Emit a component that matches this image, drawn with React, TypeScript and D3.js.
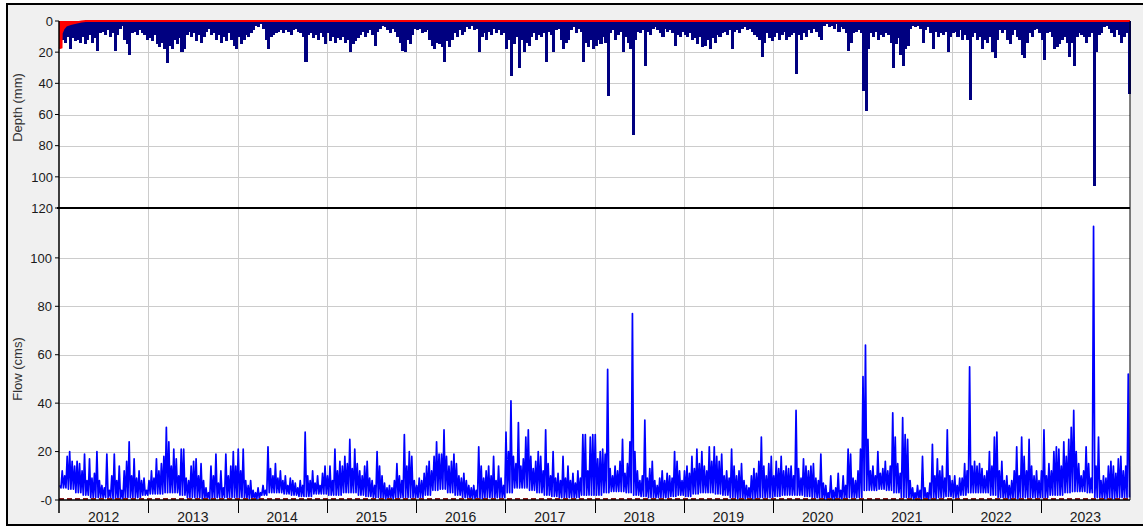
import * as d3 from "d3";
import { useEffect, useRef } from "react";

const WIDTH = 1143;
const HEIGHT = 527;
const STEPS = 36; // ~10-day steps per year

const years = [2012, 2013, 2014, 2015, 2016, 2017, 2018, 2019, 2020, 2021, 2022, 2023];

// flow peaks (cms), one per ~10 days
const flowPeaks: number[][] = [
  [6, 12, 10, 18, 20, 16, 14, 16, 15, 12, 19, 8, 17, 9, 11, 20, 8, 6, 5, 19, 4, 10, 19, 8, 14, 4, 12, 16, 24, 10, 17, 9, 12, 8, 9, 4],
  [8, 12, 9, 17, 12, 15, 18, 30, 24, 14, 21, 17, 10, 21, 21, 9, 8, 14, 16, 17, 10, 15, 8, 5, 3, 14, 10, 19, 7, 12, 5, 19, 10, 14, 20, 14],
  [21, 12, 21, 8, 6, 8, 4, 3, 5, 3, 6, 4, 22, 13, 10, 15, 9, 12, 8, 10, 6, 9, 8, 7, 5, 8, 6, 28, 10, 8, 12, 7, 10, 6, 11, 14],
  [10, 14, 8, 21, 12, 16, 14, 18, 15, 25, 13, 21, 15, 12, 10, 14, 16, 9, 8, 6, 20, 14, 10, 7, 5, 6, 5, 8, 15, 10, 8, 27, 14, 20, 18, 8],
  [6, 9, 8, 11, 14, 16, 12, 18, 24, 19, 19, 29, 18, 14, 16, 19, 15, 10, 9, 11, 8, 6, 5, 6, 4, 22, 14, 9, 12, 14, 10, 18, 8, 14, 9, 6],
  [28, 20, 41, 18, 15, 32, 14, 17, 26, 29, 18, 13, 16, 20, 18, 12, 29, 15, 10, 20, 9, 11, 8, 18, 9, 14, 8, 11, 7, 12, 9, 27, 27, 12, 26, 27],
  [27, 17, 20, 21, 19, 54, 13, 10, 14, 12, 16, 25, 11, 15, 24, 77, 20, 12, 8, 10, 33, 9, 13, 16, 8, 6, 9, 12, 8, 11, 10, 9, 20, 16, 12, 8],
  [12, 14, 11, 18, 13, 21, 15, 20, 14, 12, 22, 16, 22, 18, 16, 19, 10, 12, 9, 21, 14, 10, 12, 15, 8, 6, 5, 10, 13, 11, 16, 26, 14, 10, 15, 18],
  [10, 16, 13, 18, 12, 14, 13, 14, 10, 37, 13, 9, 17, 14, 12, 14, 15, 9, 8, 19, 7, 6, 3, 10, 4, 5, 11, 4, 10, 6, 21, 19, 9, 8, 12, 21],
  [51, 64, 25, 12, 14, 10, 20, 11, 13, 16, 12, 14, 36, 26, 15, 11, 34, 27, 25, 8, 5, 3, 6, 4, 18, 5, 3, 7, 23, 10, 17, 12, 14, 9, 29, 10],
  [8, 10, 6, 9, 9, 15, 12, 55, 14, 16, 14, 15, 13, 10, 12, 20, 14, 26, 28, 12, 16, 8, 10, 6, 8, 12, 22, 10, 26, 18, 12, 25, 14, 10, 12, 8],
  [12, 29, 10, 15, 12, 20, 22, 21, 14, 24, 18, 25, 30, 37, 20, 15, 10, 12, 22, 15, 9, 113, 14, 26, 8, 10, 9, 14, 16, 14, 11, 17, 18, 12, 14, 52],
];

// monthly low flow (cms)
const flowLows: number[][] = [
  [5, 4.5, 3, 2, 1, 1, 1, 0.5, 0.5, 1, 1, 2],
  [2.5, 2.5, 3, 3, 2, 1, 1, 0.5, 0.5, 1, 1, 1],
  [1, 0.5, 0.5, 2, 3, 3, 2.5, 2, 1.5, 1.5, 2.5, 2.5],
  [2, 2, 3, 3, 2, 1.5, 1, 0.5, 0.5, 1, 1, 1],
  [1, 2, 4, 4.5, 3, 2, 1, 0.5, 0.5, 1, 1, 1],
  [3, 5, 5, 4, 3, 2, 1.5, 1, 1, 1, 2, 2],
  [2, 3, 3.5, 3.5, 3, 2, 1.5, 1, 1, 1, 1.5, 2],
  [1.5, 2.5, 3, 3, 2.5, 2, 1, 0.5, 0.5, 0.5, 1, 1],
  [1.5, 2, 2, 2, 1.5, 1, 0.3, 0.2, 0.2, 0.5, 1, 1],
  [4, 4, 4.5, 4, 3, 1, 0.3, 0.2, 0.3, 0.5, 1, 1.5],
  [1, 2, 3, 3, 3, 2, 1, 0.5, 0.5, 1, 1, 1],
  [1, 2, 2, 3, 3.5, 3.5, 3, 1, 0.5, 0.5, 1, 1],
];

// rainfall depth (mm), one per ~10 days
const depthValues: number[][] = [
  [16, 12, 14, 10, 18, 11, 13, 12, 14, 10, 15, 12, 9, 14, 11, 19, 8, 7, 9, 6, 10, 8, 19, 9, 5, 3, 12, 15, 22, 8, 7, 9, 6, 8, 9, 12],
  [11, 13, 9, 15, 17, 14, 18, 27, 16, 18, 12, 15, 11, 20, 18, 9, 7, 10, 8, 13, 9, 14, 10, 7, 5, 9, 8, 12, 9, 14, 10, 13, 8, 12, 16, 18],
  [10, 15, 12, 9, 10, 8, 6, 3, 4, 2, 5, 12, 18, 10, 9, 8, 7, 6, 8, 6, 7, 9, 6, 5, 7, 8, 10, 26, 9, 8, 11, 9, 12, 8, 10, 15],
  [8, 13, 10, 14, 11, 12, 10, 14, 12, 20, 15, 13, 11, 9, 7, 10, 8, 6, 9, 16, 7, 5, 3, 4, 6, 8, 5, 7, 10, 14, 19, 20, 12, 15, 9, 5],
  [6, 5, 8, 7, 6, 12, 16, 18, 14, 15, 17, 26, 13, 17, 12, 8, 10, 6, 9, 7, 4, 5, 3, 6, 5, 20, 10, 8, 12, 7, 9, 5, 8, 6, 9, 8],
  [18, 12, 35, 15, 10, 30, 12, 20, 14, 16, 10, 8, 12, 9, 10, 8, 26, 7, 9, 20, 6, 5, 12, 18, 14, 12, 6, 4, 8, 5, 7, 26, 14, 17, 12, 18],
  [16, 12, 15, 10, 14, 48, 8, 6, 12, 9, 7, 20, 10, 14, 18, 73, 12, 7, 8, 6, 29, 7, 9, 5, 4, 6, 8, 10, 5, 7, 6, 8, 16, 9, 10, 7],
  [9, 10, 8, 12, 11, 15, 10, 17, 16, 12, 18, 11, 14, 9, 10, 8, 7, 9, 6, 18, 7, 6, 8, 5, 4, 6, 5, 7, 9, 10, 12, 23, 14, 8, 11, 13],
  [10, 8, 12, 9, 7, 12, 10, 9, 8, 34, 9, 12, 8, 10, 6, 8, 5, 7, 10, 12, 3, 2, 4, 3, 5, 2, 7, 4, 5, 8, 19, 14, 8, 7, 6, 8],
  [45, 58, 18, 8, 10, 7, 12, 9, 10, 8, 9, 14, 30, 15, 11, 22, 29, 18, 16, 5, 3, 4, 3, 5, 14, 6, 4, 8, 18, 7, 10, 8, 9, 7, 20, 10],
  [8, 7, 10, 6, 12, 9, 12, 51, 10, 8, 12, 10, 18, 12, 14, 10, 20, 24, 12, 6, 8, 6, 12, 15, 9, 6, 10, 12, 22, 24, 14, 8, 10, 6, 5, 8],
  [12, 25, 8, 7, 10, 18, 17, 15, 12, 10, 14, 23, 14, 29, 10, 8, 9, 10, 14, 10, 8, 106, 20, 9, 8, 4, 3, 5, 8, 10, 6, 9, 14, 10, 8, 47],
];

// red series (mm) as [decimal year, depth]
const lossDepth: [number, number][] = [
  [2012, 17.5], [2012.028, 17], [2012.03, 8], [2012.05, 5], [2012.08, 3],
  [2012.13, 2], [2012.2, 1], [2012.25, 0.3], [2012.3, 0], [2024, 0],
];

const depthTicks = [0, 20, 40, 60, 80, 100, 120];
const flowTicks = [0, 20, 40, 60, 80, 100];
const flowTickLabels = ["-0", "20", "40", "60", "80", "100"];

const FONT = "'Liberation Sans', Arial, sans-serif";

const App = () => {
  const svgRef = useRef<SVGSVGElement | null>(null);

  useEffect(() => {
    if (!svgRef.current) return;
    const svg = d3.select(svgRef.current);
    svg.selectAll("*").remove();

    const left = 59;
    const right = 1130;
    const top = 21;
    const mid = 208;
    const bottom = 500;

    const x = d3.scaleLinear([years[0], years[years.length - 1] + 1], [left, right]);
    const yDepth = d3.scaleLinear([0, 120], [top, mid]);
    const yFlow = d3.scaleLinear([0, 120.6], [bottom, mid]);

    // frame
    svg.append("rect").attr("width", WIDTH).attr("height", HEIGHT).attr("fill", "#fff");
    svg
      .append("rect")
      .attr("x", 7)
      .attr("y", 4)
      .attr("width", WIDTH + 20)
      .attr("height", 521)
      .attr("fill", "#f0f0f0")
      .attr("stroke", "#000")
      .attr("stroke-width", 2);
    svg
      .append("rect")
      .attr("x", left)
      .attr("y", top)
      .attr("width", right - left)
      .attr("height", bottom - top)
      .attr("fill", "#fff");

    const grid = svg.append("g").attr("stroke", "#cccccc").attr("stroke-width", 1);
    grid
      .selectAll("line.v")
      .data(years.slice(1))
      .enter()
      .append("line")
      .attr("x1", (d) => Math.round(x(d)) + 0.5)
      .attr("x2", (d) => Math.round(x(d)) + 0.5)
      .attr("y1", top)
      .attr("y2", bottom);
    grid
      .selectAll("line.hd")
      .data(depthTicks.slice(1, -1))
      .enter()
      .append("line")
      .attr("x1", left)
      .attr("x2", right)
      .attr("y1", (d) => Math.round(yDepth(d)) + 0.5)
      .attr("y2", (d) => Math.round(yDepth(d)) + 0.5);
    grid
      .selectAll("line.hf")
      .data(flowTicks.slice(1))
      .enter()
      .append("line")
      .attr("x1", left)
      .attr("x2", right)
      .attr("y1", (d) => Math.round(yFlow(d)) + 0.5)
      .attr("y2", (d) => Math.round(yFlow(d)) + 0.5);

    // depth bars
    const bars = years.flatMap((yr, k) =>
      depthValues[k].map((v, i) => ({ t: yr + i / STEPS, v }))
    );
    svg
      .append("g")
      .attr("fill", "#000080")
      .attr("shape-rendering", "crispEdges")
      .selectAll("rect")
      .data(bars)
      .enter()
      .append("rect")
      .attr("x", (d) => x(d.t))
      .attr("width", (d) => x(d.t + 1 / STEPS) - x(d.t) + 0.6)
      .attr("y", yDepth(0))
      .attr("height", (d) => yDepth(d.v) - yDepth(0));

    // red series
    svg
      .append("path")
      .datum(lossDepth)
      .attr("fill", "#ff0000")
      .attr(
        "d",
        d3
          .area<[number, number]>()
          .x((d) => x(d[0]))
          .y0(yDepth(0))
          .y1((d) => yDepth(d[1]))
      );
    svg
      .append("path")
      .datum(lossDepth)
      .attr("fill", "none")
      .attr("stroke", "#ff0000")
      .attr("stroke-width", 2)
      .attr(
        "d",
        d3
          .line<[number, number]>()
          .x((d) => x(d[0]))
          .y((d) => yDepth(d[1]))
      );

    // flow
    const flowPts = years.flatMap((yr, k) =>
      flowPeaks[k].flatMap((v, i) => [
        { t: yr + (i + 0.3) / STEPS, v },
        { t: yr + (i + 0.8) / STEPS, v: flowLows[k][Math.floor(i / 3)] },
      ])
    );
    svg
      .append("path")
      .datum(flowPts)
      .attr("fill", "none")
      .attr("stroke", "#0000ff")
      .attr("stroke-width", 1.7)
      .attr("stroke-linejoin", "round")
      .attr(
        "d",
        d3
          .line<{ t: number; v: number }>()
          .x((d) => x(d.t))
          .y((d) => yFlow(d.v))
      );

    svg
      .append("line")
      .attr("x1", left)
      .attr("x2", right)
      .attr("y1", yFlow(0) - 1)
      .attr("y2", yFlow(0) - 1)
      .attr("stroke", "#8b1a1a")
      .attr("stroke-width", 2)
      .attr("stroke-dasharray", "5,3");

    // axes
    const axes = svg.append("g").attr("stroke", "#000");
    axes.append("line").attr("x1", left).attr("x2", left).attr("y1", top).attr("y2", 513).attr("stroke-width", 1.5);
    axes.append("line").attr("x1", left).attr("x2", right).attr("y1", bottom).attr("y2", bottom).attr("stroke-width", 1.5);
    axes.append("line").attr("x1", right).attr("x2", right).attr("y1", top).attr("y2", bottom).attr("stroke-width", 1);
    axes.append("line").attr("x1", 57).attr("x2", right).attr("y1", mid).attr("y2", mid).attr("stroke-width", 2);
    axes
      .selectAll("line.xt")
      .data(years.slice(1))
      .enter()
      .append("line")
      .attr("x1", (d) => Math.round(x(d)) + 0.5)
      .attr("x2", (d) => Math.round(x(d)) + 0.5)
      .attr("y1", bottom)
      .attr("y2", 513);
    axes
      .selectAll("line.ydt")
      .data(depthTicks)
      .enter()
      .append("line")
      .attr("x1", 55)
      .attr("x2", left)
      .attr("y1", (d) => yDepth(d))
      .attr("y2", (d) => yDepth(d));
    axes
      .selectAll("line.yft")
      .data(flowTicks)
      .enter()
      .append("line")
      .attr("x1", 55)
      .attr("x2", left)
      .attr("y1", (d) => yFlow(d))
      .attr("y2", (d) => yFlow(d));

    const labels = svg
      .append("g")
      .attr("font-family", FONT)
      .attr("font-size", 13)
      .attr("fill", "#1a1a1a");
    labels
      .selectAll("text.yd")
      .data(depthTicks)
      .enter()
      .append("text")
      .attr("x", 53)
      .attr("y", (d) => yDepth(d))
      .attr("dy", "0.36em")
      .attr("text-anchor", "end")
      .text((d) => String(d));
    labels
      .selectAll("text.yf")
      .data(flowTicks)
      .enter()
      .append("text")
      .attr("x", 52)
      .attr("y", (d) => yFlow(d))
      .attr("dy", "0.36em")
      .attr("text-anchor", "end")
      .text((d, i) => flowTickLabels[i]);
    labels
      .selectAll("text.yr")
      .data(years)
      .enter()
      .append("text")
      .attr("x", (d) => x(d + 0.5))
      .attr("y", 522)
      .attr("font-size", 14)
      .attr("text-anchor", "middle")
      .text((d) => String(d));

    labels
      .append("text")
      .attr("transform", `translate(22, ${(top + mid) / 2 - 7}) rotate(-90)`)
      .attr("text-anchor", "middle")
      .attr("fill", "#333")
      .text("Depth (mm)");
    labels
      .append("text")
      .attr("transform", `translate(22, 369) rotate(-90)`)
      .attr("text-anchor", "middle")
      .attr("fill", "#333")
      .text("Flow (cms)");
  }, []);

  return (
    <svg
      ref={svgRef}
      width={WIDTH}
      height={HEIGHT}
      style={{ position: "absolute", left: 0, top: 0, display: "block" }}
    />
  );
};

export default App;
